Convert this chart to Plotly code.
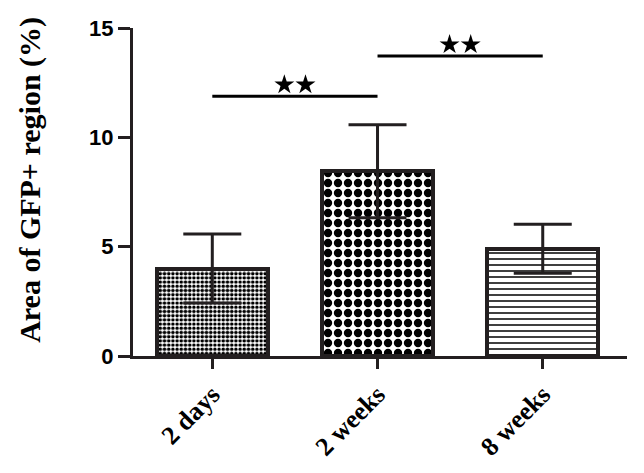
import plotly.graph_objects as go

categories = ["2 days", "2 weeks", "8 weeks"]
means = [4.0, 8.45, 4.9]
sds = [1.58, 2.13, 1.12]
y_ticks = [0, 5, 10, 15]
y_title = "Area of GFP+ region (%)"
# significance brackets: (from category index, to category index, line level, label)
brackets = [(0, 1, 11.88, "**"), (1, 2, 13.72, "**")]

patterns = [
    dict(shape=".", size=4.2, solidity=0.55, fgcolor="black", bgcolor="white", fgopacity=1),
    dict(shape=".", size=10, solidity=0.55, fgcolor="black", bgcolor="white", fgopacity=1),
    dict(shape="-", size=6, solidity=0.25, fgcolor="black", bgcolor="white", fgopacity=1),
]

fig = go.Figure()
for i, cat in enumerate(categories):
    fig.add_trace(go.Bar(
        x=[i], y=[means[i]],
        width=0.67,
        marker=dict(color="white", line=dict(color="#231f20", width=4), pattern=patterns[i]),
        error_y=dict(type="data", array=[sds[i]], visible=True, color="#231f20", thickness=3, width=29),
        showlegend=False,
    ))

for (a, b, lvl, lab) in brackets:
    fig.add_shape(type="line", xref="x", yref="y", x0=a, x1=b, y0=lvl, y1=lvl,
                  line=dict(color="black", width=3))
    mid = (a + b) / 2
    fig.add_trace(go.Scatter(
        x=[mid - 0.064, mid + 0.064], y=[lvl + 0.52, lvl + 0.52], mode="markers",
        marker=dict(symbol="star", size=15, color="black", line=dict(width=0)),
        showlegend=False, hoverinfo="skip", cliponaxis=False,
    ))

fig.add_annotation(
    text=y_title, textangle=-90, showarrow=False,
    xref="paper", yref="paper", x=0, y=0.537, xanchor="center", yanchor="middle",
    xshift=-103,
    font=dict(family="Liberation Serif", size=30, color="black", weight="bold"),
)

# page body has an 8px default margin, margins compensate for it
fig.update_layout(
    width=644, height=473,
    margin=dict(l=125, r=25, t=20, b=125),
    plot_bgcolor="white", paper_bgcolor="white",
    bargap=0,
)
fig.update_xaxes(
    range=[-0.48, 2.51], automargin=False,
    tickmode="array", tickvals=list(range(len(categories))), ticktext=categories,
    tickangle=-45,
    tickfont=dict(family="Liberation Serif", size=26, color="black", weight="bold"),
    showline=True, linecolor="#231f20", linewidth=3,
    ticks="outside", ticklen=10, tickwidth=3, tickcolor="#231f20",
    showgrid=False, zeroline=False,
)
fig.update_yaxes(
    range=[0, 15], automargin=False,
    tickvals=y_ticks,
    tickfont=dict(family="Liberation Sans", size=22, color="black", weight="bold"),
    showline=True, linecolor="#231f20", linewidth=3,
    ticks="outside", ticklen=12, tickwidth=3, tickcolor="#231f20",
    showgrid=False, zeroline=False,
)

fig.write_html("out.html")
